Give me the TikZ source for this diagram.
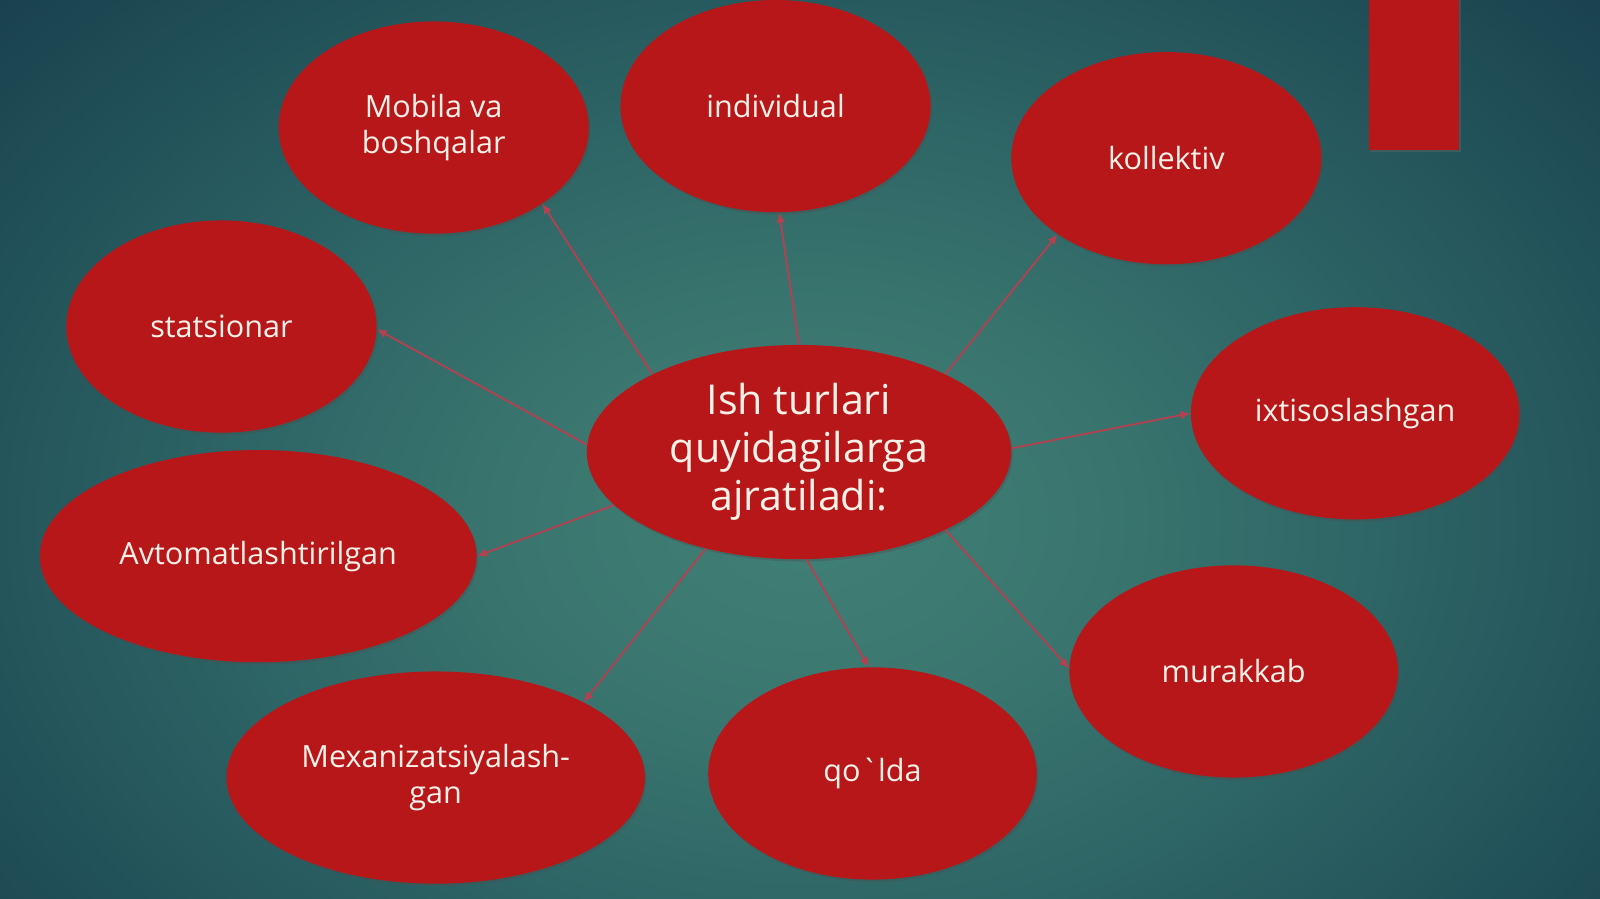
\documentclass[tikz,border=0pt]{standalone}
\usepackage{fontspec}
\setmainfont{Open Sans}[Ligatures=TeXOff]
\usetikzlibrary{shapes.geometric,arrows.meta,shadows}
\definecolor{ered}{HTML}{B8171A}
\definecolor{etext}{HTML}{F8F1E8}
\definecolor{conn}{HTML}{B5404F}
\definecolor{bgA}{HTML}{418076}
\definecolor{bgB}{HTML}{3A766F}
\definecolor{bgC}{HTML}{2E6566}
\definecolor{bgD}{HTML}{225259}
\definecolor{bgE}{HTML}{1A434F}
\definecolor{bgF}{HTML}{163A48}
\pgfdeclareradialshading{bgshade}{\pgfpoint{0bp}{0bp}}{color(0bp)=(bgA); color(8bp)=(bgB); color(16bp)=(bgC); color(24bp)=(bgD); color(30bp)=(bgE); color(35bp)=(bgF); color(50bp)=(bgF)}
\begin{document}
\begin{tikzpicture}[x=0.5102pt,y=-0.5102pt,
  blob/.style={ellipse, fill=ered, inner sep=0pt, text=etext, align=center,
    minimum width=155.1pt, minimum height=106.1pt,
    font=\fontsize{15.3}{18.4}\selectfont,
    drop shadow={opacity=0.35, shadow xshift=0.8pt, shadow yshift=-1.2pt, fill=black!70}},
  wideA/.style={minimum width=164.3pt},
  link/.style={draw=conn, line width=0.9pt, -{Latex[length=5pt,width=4.5pt]}}]
\useasboundingbox (0,0) rectangle (1568,881);
\begin{scope}
\clip (0,0) rectangle (1568,881);
\shade[shading=bgshade] (-80,-110) rectangle (1660,1130);
\end{scope}
% red bar
\fill[black!60, opacity=0.4] (1343,0) rectangle (1432,149);
\fill[ered] (1342,0) rectangle (1430,147);
% center
\node[blob, minimum width=212.2pt, minimum height=107.1pt,
  font=\fontsize{20.6}{24}\selectfont] (c) at (783,443) {Ish turlari\\quyidagilarga\\ajratiladi:};
% outer nodes
\node[blob] (mob) at (425,125) {Mobila va\\boshqalar};
\node[blob] (ind) at (760,104) {individual};
\node[blob] (kol) at (1143,155) {kollektiv};
\node[blob] (sta) at (217,320) {statsionar};
\node[blob, wideA] (ixt) at (1328,405) {ixtisoslashgan};
\node[blob, minimum width=218.4pt] (avt) at (253,545) {Avtomatlashtirilgan};
\node[blob, wideA] (mur) at (1209,658) {murakkab};
\node[blob, wideA] (qol) at (855,758) {qo`lda};
\node[blob, minimum width=209.2pt] (mex) at (427,762) {Mexanizatsiyalash-\\gan};
% connectors
\draw[link] (c.152) -- (mob.325);
\draw[link] (c.90) -- (ind.272);
\draw[link] (c.28.5) -- (kol.215);
\draw[link] (c.178.7) -- (sta.359);
\draw[link] (c.1) -- (ixt.180);
\draw[link] (c.196) -- (avt.0);
\draw[link] (c.332) -- (mur.179);
\draw[link] (c.274) -- (qol.92);
\draw[link] (c.226) -- (mex.27.5);
\end{tikzpicture}
\end{document}
